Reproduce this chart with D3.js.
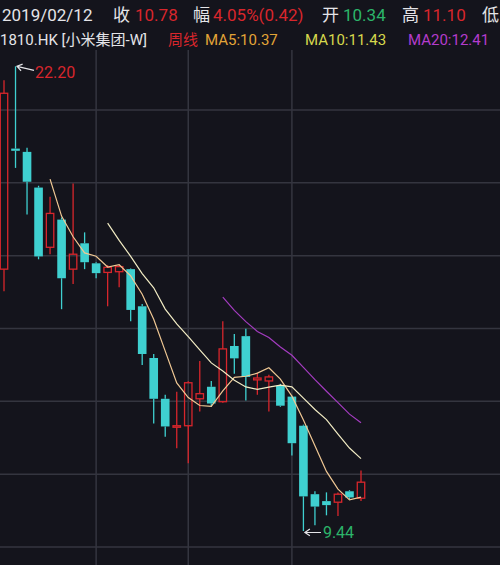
<!DOCTYPE html>
<html>
<head>
<meta charset="utf-8">
<script src="https://cdn.jsdelivr.net/npm/d3@7"></script>
<style>
  html, body { margin: 0; padding: 0; background: #14141c; }
  svg { display: block; }
</style>
</head>
<body>
<svg id="chart" width="500" height="565"></svg>
<script>
// weekly candles, 1810.HK
const weeks = [
  "2018-07-09", "2018-07-16", "2018-07-23", "2018-07-30", "2018-08-06", "2018-08-13",
  "2018-08-20", "2018-08-27", "2018-09-03", "2018-09-10", "2018-09-17", "2018-09-24",
  "2018-10-01", "2018-10-08", "2018-10-15", "2018-10-22", "2018-10-29", "2018-11-05",
  "2018-11-12", "2018-11-19", "2018-11-26", "2018-12-03", "2018-12-10", "2018-12-17",
  "2018-12-24", "2018-12-31", "2019-01-07", "2019-01-14", "2019-01-21", "2019-01-28",
  "2019-02-04", "2019-02-11"
];
const open  = [16.63, 19.94, 19.85, 18.87, 17.23, 17.99, 16.63, 17.34, 16.79, 16.54, 16.56, 16.63,
               15.61, 14.19, 13.07, 12.31, 12.33, 13.07, 13.40, 12.99, 14.52, 14.79, 13.59, 13.56,
               13.43, 13.13, 12.33, 10.45, 10.26, 10.23, 10.53, 10.34];
const high  = [21.82, 22.20, 19.96, 18.92, 18.62, 18.05, 18.98, 17.64, 16.82, 16.74, 16.74, 16.65,
               15.67, 14.30, 13.18, 13.26, 13.55, 14.11, 13.56, 15.20, 14.85, 14.99, 13.78, 13.73,
               13.48, 13.15, 12.36, 10.53, 10.50, 10.50, 10.56, 11.10];
const low   = [16.02, 19.41, 18.13, 16.90, 17.04, 15.53, 16.22, 16.63, 16.38, 15.61, 16.13, 15.20,
               14.00, 12.39, 12.03, 11.71, 11.30, 12.72, 12.85, 12.96, 13.76, 13.02, 13.18, 12.72,
               12.85, 11.51,  9.44,  9.60,  9.87,  9.85, 10.31, 10.26];
const close = [21.46, 19.88, 19.03, 16.98, 18.16, 16.38, 17.04, 16.82, 16.52, 16.68, 16.70, 15.51,
               14.30, 13.07, 12.31, 12.33, 13.51, 13.21, 12.94, 14.44, 14.18, 13.67, 13.64, 13.67,
               12.88, 11.85, 10.39, 10.11, 10.15, 10.45, 10.36, 10.78];

const priceGrid = [21, 19, 17, 15, 13, 11, 9];
const timeGrid = ["2018-09-03", "2018-10-29", "2018-12-31"];
const maPeriods = [5, 10, 20];

const RED = "#d8262c";
const CYAN = "#3fd0d0";
const GREEN = "#2cb46a";
const WHITE = "#e4e4e8";
const GRID = "#34353f";
const maColors = { 5: "#f0c894", 10: "#f2ecc4", 20: "#a43cc0" };

const width = 500, height = 565, chartTop = 50;

const svg = d3.select("#chart");

const x = d3.scalePoint()
  .domain(weeks)
  .range([4, 361]);

const y = d3.scaleLinear()
  .domain([9, 21])
  .range([547, 110]);

const bodyW = x.step() * 0.75;

// grid
svg.append("g")
  .selectAll("line")
  .data(priceGrid)
  .join("line")
  .attr("x1", 0)
  .attr("x2", width)
  .attr("y1", d => y(d))
  .attr("y2", d => y(d))
  .attr("stroke", GRID)
  .attr("stroke-width", 1.5);

svg.append("g")
  .selectAll("line")
  .data(timeGrid)
  .join("line")
  .attr("x1", d => x(d))
  .attr("x2", d => x(d))
  .attr("y1", chartTop)
  .attr("y2", height)
  .attr("stroke", GRID)
  .attr("stroke-width", 1.5);

// candles
const candles = weeks.map((w, i) => ({
  week: w, open: open[i], high: high[i], low: low[i], close: close[i]
}));

const candleG = svg.append("g")
  .selectAll("g")
  .data(candles)
  .join("g");

candleG.each(function (d) {
  const g = d3.select(this);
  const cx = x(d.week);
  const up = d.close > d.open;
  const color = up ? RED : CYAN;
  const top = y(Math.max(d.open, d.close));
  const bot = y(Math.min(d.open, d.close));
  const h = Math.max(bot - top, 1.5);

  // Schatten oben und unten
  g.append("line")
    .attr("x1", cx).attr("x2", cx)
    .attr("y1", y(d.high)).attr("y2", top)
    .attr("stroke", color).attr("stroke-width", 1.3);
  g.append("line")
    .attr("x1", cx).attr("x2", cx)
    .attr("y1", top + h).attr("y2", y(d.low))
    .attr("stroke", color).attr("stroke-width", 1.3);

  if (up) {
    g.append("rect")
      .attr("x", cx - bodyW / 2 + 0.6)
      .attr("y", top)
      .attr("width", bodyW - 1.2)
      .attr("height", h)
      .attr("fill", "none")
      .attr("stroke", color)
      .attr("stroke-width", 1.3);
  } else {
    g.append("rect")
      .attr("x", cx - bodyW / 2)
      .attr("y", top)
      .attr("width", bodyW)
      .attr("height", h)
      .attr("fill", color);
  }
});

// moving averages
const ma = n => close.map((c, i) => i < n - 1 ? null : d3.mean(close.slice(i - n + 1, i + 1)));

maPeriods.forEach(n => {
  const values = ma(n);
  const line = d3.line()
    .defined(d => d != null)
    .x((d, i) => x(weeks[i]))
    .y(d => y(d));
  svg.append("path")
    .datum(values)
    .attr("d", line)
    .attr("fill", "none")
    .attr("stroke", maColors[n])
    .attr("stroke-width", 1.2);
});

// max / min markers
const iMax = d3.maxIndex(high);
const iMin = d3.minIndex(low);

const arrow = (ax, ay, bx, by) => {
  const ang = Math.atan2(by - ay, bx - ax);
  const len = 6;
  const p1 = [ax + len * Math.cos(ang - 0.6), ay + len * Math.sin(ang - 0.6)];
  const p2 = [ax + len * Math.cos(ang + 0.6), ay + len * Math.sin(ang + 0.6)];
  return `M${bx},${by}L${ax},${ay}M${p1[0]},${p1[1]}L${ax},${ay}L${p2[0]},${p2[1]}`;
};

const hx = x(weeks[iMax]) + 1.5, hy = y(high[iMax]);
svg.append("path")
  .attr("d", arrow(hx, hy, hx + 17, hy + 4))
  .attr("fill", "none")
  .attr("stroke", WHITE)
  .attr("stroke-width", 1.2);
svg.append("text")
  .attr("x", hx + 18)
  .attr("y", hy + 12)
  .attr("fill", RED)
  .attr("font-size", 16)
  .attr("font-family", "Roboto, 'Noto Sans CJK SC', sans-serif")
  .text(d3.format(".2f")(high[iMax]));

const lx = x(weeks[iMin]) + 1.5, ly = y(low[iMin]) + 1.5;
svg.append("path")
  .attr("d", arrow(lx, ly, lx + 16, ly))
  .attr("fill", "none")
  .attr("stroke", WHITE)
  .attr("stroke-width", 1.2);
svg.append("text")
  .attr("x", lx + 18)
  .attr("y", ly + 6)
  .attr("fill", GREEN)
  .attr("font-size", 16)
  .attr("font-family", "Roboto, 'Noto Sans CJK SC', sans-serif")
  .text(d3.format(".2f")(low[iMin]));

// header
const last = candles.length - 1;
const prev = close[last - 1];
const chg = close[last] - prev;
const f2 = d3.format(".2f");
const maLast = maPeriods.map(n => ma(n)[last]);

const row1 = [
  { t: "2019/02/12", x: 2, c: WHITE },
  { t: "收", x: 113, c: WHITE },
  { t: f2(close[last]), x: 135, c: RED },
  { t: "幅", x: 193, c: WHITE },
  { t: `${f2(chg / prev * 100)}%(${f2(chg)})`, x: 213, c: RED },
  { t: "开", x: 322, c: WHITE },
  { t: f2(open[last]), x: 343, c: GREEN },
  { t: "高", x: 402, c: WHITE },
  { t: f2(high[last]), x: 423, c: RED },
  { t: "低", x: 482, c: WHITE }
];

const row2 = [
  { t: "1810.HK [小米集团-W]", x: 0, c: WHITE },
  { t: "周线", x: 168, c: RED },
  { t: `MA5:${f2(maLast[0])}`, x: 205, c: "#e3a437" },
  { t: `MA10:${f2(maLast[1])}`, x: 305, c: "#d6d84c" },
  { t: `MA20:${f2(maLast[2])}`, x: 408, c: "#b43ccc" }
];

svg.append("g")
  .selectAll("text")
  .data(row1)
  .join("text")
  .attr("x", d => d.x)
  .attr("y", 21)
  .attr("fill", d => d.c)
  .attr("font-size", 17)
  .attr("font-family", "Roboto, 'Noto Sans CJK SC', sans-serif")
  .text(d => d.t);

svg.append("g")
  .selectAll("text")
  .data(row2)
  .join("text")
  .attr("x", d => d.x)
  .attr("y", 45)
  .attr("fill", d => d.c)
  .attr("font-size", 15)
  .attr("font-family", "Roboto, 'Noto Sans CJK SC', sans-serif")
  .text(d => d.t);
</script>
</body>
</html>
